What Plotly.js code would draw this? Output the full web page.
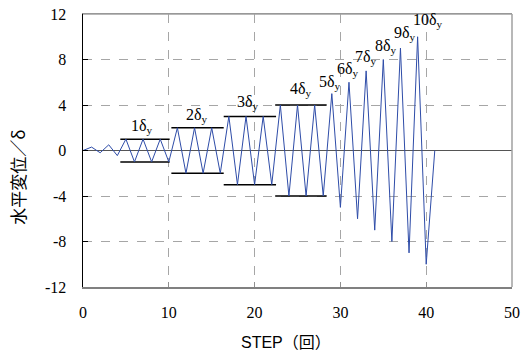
<!DOCTYPE html>
<html>
<head>
<meta charset="utf-8">
<script src="https://cdn.plot.ly/plotly-3.0.1.min.js"></script>
<style>html,body{margin:0;padding:0;background:#fff}#chart{width:523px;height:356px}</style>
</head>
<body>
<div id="chart"></div>
<script>
// Loading history: step number vs horizontal displacement / δy
const steps = [0,1,2,3,4,5,6,7,8,9,10,11,12,13,14,15,16,17,18,19,20,21,22,23,24,25,26,27,28,29,30,31,32,33,34,35,36,37,38,39,40,41];
const disp  = [0,0.3,-0.2,0.5,-0.45,1,-1,1,-1,1,-1,2,-2,2,-2,2,-2,3,-3,3,-3,3,-3,4,-4,4,-4,4,-4,5,-5,6,-6,7,-7,8,-8,9,-9,10,-10,0];

// amplitude reference bars (±level between start and end step)
const refLevels = [1, 2, 3, 4];
const refStart  = [4.35, 10.3, 16.4, 22.4];
const refEnd    = [10.1, 16.4, 22.5, 28.4];

// amplitude labels
const labelText = ["1δ<sub>y</sub>","2δ<sub>y</sub>","3δ<sub>y</sub>","4δ<sub>y</sub>","5δ<sub>y</sub>","6δ<sub>y</sub>","7δ<sub>y</sub>","8δ<sub>y</sub>","9δ<sub>y</sub>","10δ<sub>y</sub>"];
const labelX    = [6.9, 13.3, 19.2, 25.4, 28.8, 30.9, 33.0, 35.3, 37.5, 40.2];
const labelY    = [2.1, 3.1, 4.2, 5.4, 6.0, 7.1, 8.2, 9.1, 10.3, 11.4];

const xTicks = [0,10,20,30,40,50];
const yTicks = [-12,-8,-4,0,4,8,12];

const refX = [], refY = [];
refLevels.forEach((lv, i) => {
  refX.push(refStart[i], refEnd[i], null, refStart[i], refEnd[i], null);
  refY.push(lv, lv, null, -lv, -lv, null);
});

const traces = [
  {x: refX, y: refY, mode: 'lines', line: {color: '#000000', width: 1.5}, hoverinfo: 'skip', showlegend: false},
  {x: steps, y: disp, mode: 'lines', line: {color: '#2e4ca8', width: 1}, showlegend: false}
];

const labelAnn = labelText.map((t, i) => ({
  x: labelX[i], y: labelY[i], xref: 'x', yref: 'y', text: t, showarrow: false,
  xanchor: 'center', yanchor: 'middle',
  font: {family: 'Liberation Serif, Times New Roman, serif', size: 16, color: '#000'}
}));

const layout = {
  width: 523, height: 356,
  margin: {l: 83, r: 11, t: 14, b: 69},
  paper_bgcolor: '#fff', plot_bgcolor: '#fff',
  showlegend: false,
  xaxis: {
    range: [0, 50], tickvals: xTicks, ticktext: xTicks.map(String),
    showgrid: true, gridcolor: '#a6a6a6', griddash: 'dash', gridwidth: 1,
    zeroline: false,
    showline: true, linecolor: '#808080', linewidth: 1.5, mirror: true,
    ticks: 'inside', ticklen: 5, tickcolor: '#909090', tickwidth: 1,
    ticklabelstandoff: 10,
    tickfont: {family: 'Liberation Serif, Times New Roman, serif', size: 16, color: '#000'}
  },
  yaxis: {
    range: [-12, 12], tickvals: yTicks, ticktext: yTicks.map(String),
    showgrid: true, gridcolor: '#a6a6a6', griddash: 'dash', gridwidth: 1,
    zeroline: true, zerolinecolor: '#555555', zerolinewidth: 1.5,
    showline: true, linecolor: '#000000', linewidth: 1.5,
    ticks: 'inside', ticklen: 5, tickcolor: '#000000', tickwidth: 1,
    ticklabelstandoff: 12,
    tickfont: {family: 'Liberation Serif, Times New Roman, serif', size: 16, color: '#000'}
  },
  annotations: labelAnn.concat([
    {
      xref: 'paper', yref: 'paper', x: -0.1515, y: 0.40, xanchor: 'center', yanchor: 'middle',
      text: '水平変位／δ', textangle: -90, showarrow: false,
      font: {family: 'Noto Sans CJK JP, sans-serif', size: 17, color: '#000'}
    },
    {
      xref: 'paper', yref: 'paper', x: 0.474, y: -0.2015, xanchor: 'center', yanchor: 'middle',
      text: 'STEP（回）', showarrow: false,
      font: {family: 'Liberation Sans, Arial, Noto Sans CJK JP, sans-serif', size: 16, color: '#000'}
    }
  ]),
  shapes: [
    {type: 'line', xref: 'paper', yref: 'paper', x0: 1, x1: 1, y0: 0, y1: 1, line: {color: '#a0a0a0', width: 1.5}},
    {type: 'line', xref: 'paper', yref: 'paper', x0: 0, x1: 1, y0: 1, y1: 1, line: {color: '#a0a0a0', width: 1.5}}
  ]
};

Plotly.newPlot('chart', traces, layout, {displayModeBar: false, staticPlot: true});
</script>
</body>
</html>
